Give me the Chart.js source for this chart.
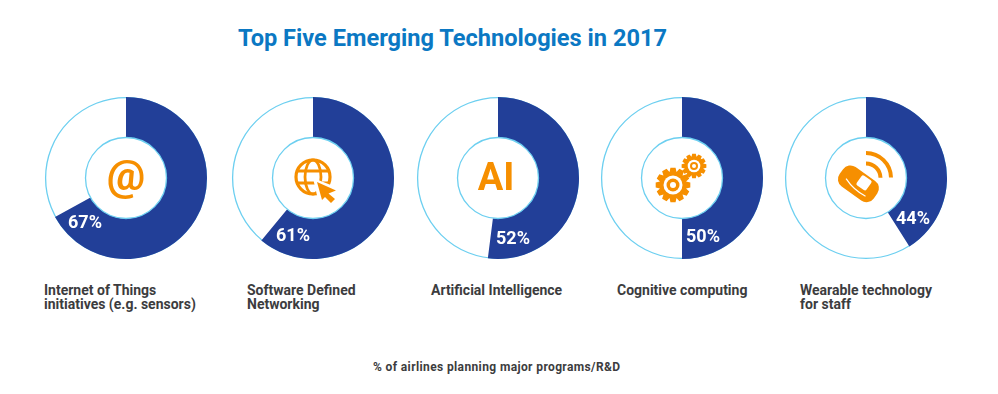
<!DOCTYPE html>
<html><head><meta charset="utf-8">
<script src="https://cdn.jsdelivr.net/npm/chart.js@4"></script>
<style>
html,body{margin:0;padding:0;background:#fff;width:998px;height:394px;overflow:hidden;font-family:Roboto,sans-serif}
canvas{position:absolute;top:93px;width:170px;height:170px}
.t{position:absolute;white-space:nowrap}
#title{left:238px;top:23px;font-size:23.6px;font-weight:700;color:#0b78c3;line-height:30px}
.lab{top:283px;font-size:14px;font-weight:700;color:#3c3c3e;line-height:14px}
#note{left:373px;top:360px;font-size:12px;font-weight:700;color:#3c3c3e;line-height:14px;letter-spacing:.38px}
</style></head><body>
<div class="t" id="title">Top Five Emerging Technologies in 2017</div>
<div class="t" id="note">% of airlines planning major programs/R&amp;D</div>
<script>
const categories = ['Internet of Things\ninitiatives (e.g. sensors)','Software Defined\nNetworking','Artificial Intelligence','Cognitive computing','Wearable technology\nfor staff'];
// Slice sizes as drawn in the reference. Its last wedge spans about 41% of the circle although it is labelled 44%.
const drawnShares = [67,61,52,50,41];
const remainders = [33,39,48,50,59];
const valueLabels = ['67%','61%','52%','50%','44%'];

const chartCenters = [126,313,498,682,866];
const labelLefts = [44,247,431,617,800];
const labelOffsets = [[-41,45],[-20,58],[15,61],[21,59],[47,41]];
const BLUE='#223f98', CYAN='#6ccff0', ORANGE='#f68f00';

function gear(c,x,y,R,r,ring,hub,eye,n){
  c.save();c.translate(x,y);c.fillStyle=ORANGE;c.beginPath();
  const s=Math.PI*2/n;
  for(let i=0;i<n;i++){const a=i*s;
    [[r,-.5],[R,-.28],[R,.28],[r,.5]].forEach(p=>{const t=a+p[1]*s;c.lineTo(Math.cos(t)*p[0],Math.sin(t)*p[0]);});}
  c.closePath();c.fill();
  c.fillStyle='#fff';c.beginPath();c.arc(0,0,ring,0,7);c.fill();
  c.fillStyle=ORANGE;c.beginPath();c.arc(0,0,hub,0,7);c.fill();
  c.fillStyle='#fff';c.beginPath();c.arc(0,0,eye,0,7);c.fill();
  c.restore();
}
const icons=[
 (c,x,y)=>{c.fillStyle=ORANGE;c.font='700 43px Roboto';c.textAlign='center';c.textBaseline='middle';c.fillText('@',x,y+1);},
 (c,x,y)=>{c.strokeStyle=ORANGE;c.lineWidth=3.2;const r=17;c.beginPath();c.arc(x,y-1,r,0,7);c.stroke();
   c.lineWidth=2.8;c.beginPath();c.ellipse(x,y-1,8,r,0,0,7);c.stroke();
   c.beginPath();c.moveTo(x-r,y-7);c.lineTo(x+r,y-7);c.moveTo(x-r,y+5);c.lineTo(x+r,y+5);c.stroke();
   c.fillStyle='#fff';c.beginPath();c.moveTo(x,y);c.lineTo(x+28,y+11);c.lineTo(x+28,y+28);c.lineTo(x+6,y+26);c.closePath();c.fill();
   c.fillStyle=ORANGE;c.beginPath();c.moveTo(x+4,y+4);c.lineTo(x+23,y+12.5);c.lineTo(x+15.5,y+15.5);c.lineTo(x+22,y+21);c.lineTo(x+18,y+25);c.lineTo(x+12,y+19);c.lineTo(x+9,y+22);c.closePath();c.fill();},
 (c,x,y)=>{c.fillStyle=ORANGE;c.font='700 38px Roboto';c.textAlign='center';c.textBaseline='middle';c.fillText('AI',x-2,y+2);},
 (c,x,y)=>{gear(c,x-9,y+7,17.5,13.5,9.5,6.5,3,12);gear(c,x+12,y-12,12.5,9.5,6.3,4,2,12);},
 (c,x,y)=>{c.strokeStyle=ORANGE;c.lineWidth=4;c.lineCap='butt';
   c.beginPath();c.arc(x,y,25,-Math.PI/2,-0.02);c.stroke();
   c.beginPath();c.arc(x,y,14.5,-Math.PI/2,-0.02);c.stroke();
   c.save();c.translate(x-7,y+5);c.rotate(.62);c.fillStyle=ORANGE;
   c.beginPath();c.roundRect(-21,-11,42,24,9);c.fill();
   c.strokeStyle='#fff';c.lineWidth=1.2;c.beginPath();c.moveTo(-13,4);c.quadraticCurveTo(0,9,13,7);c.stroke();
   c.fillStyle='#fff';c.beginPath();c.roundRect(-2,-9,12,12,2);c.fill();
   c.restore();}
];

const ringPlugin={id:'ring',
  beforeDatasetsDraw(ch){const a=ch.getDatasetMeta(0).data[0],c=ch.ctx;
    c.save();c.strokeStyle=CYAN;c.lineWidth=1.3;c.beginPath();c.arc(a.x,a.y,a.outerRadius-.6,0,Math.PI*2);c.stroke();c.restore();},
  afterDatasetsDraw(ch,args,opts){const a=ch.getDatasetMeta(0).data[0],c=ch.ctx,i=opts.index;
    c.save();c.fillStyle='#fff';c.strokeStyle=CYAN;c.lineWidth=1.3;c.beginPath();c.arc(a.x,a.y,a.innerRadius,0,Math.PI*2);c.fill();c.stroke();c.restore();
    c.save();icons[i](c,a.x,a.y);c.restore();
    c.save();c.fillStyle='#fff';c.font='700 18px Roboto';c.textAlign='center';c.textBaseline='middle';
    c.fillText(valueLabels[i],a.x+labelOffsets[i][0],a.y+labelOffsets[i][1]);c.restore();}
};

drawnShares.forEach((v,i)=>{
  const cv=document.createElement('canvas');cv.width=170;cv.height=170;cv.style.left=(chartCenters[i]-85)+'px';document.body.appendChild(cv);
  new Chart(cv,{type:'doughnut',plugins:[ringPlugin],
    data:{labels:['Planning','Other'],datasets:[{data:[v,remainders[i]],backgroundColor:[BLUE,'rgba(0,0,0,0)'],borderWidth:0}]},
    options:{responsive:false,animation:false,cutout:40.5,layout:{padding:4},
      plugins:{legend:{display:false},tooltip:{enabled:false},ring:{index:i}}}});
  const d=document.createElement('div');d.className='t lab';d.style.left=labelLefts[i]+'px';
  d.innerHTML=categories[i].replace('\n','<br>');document.body.appendChild(d);
});
</script></body></html>
